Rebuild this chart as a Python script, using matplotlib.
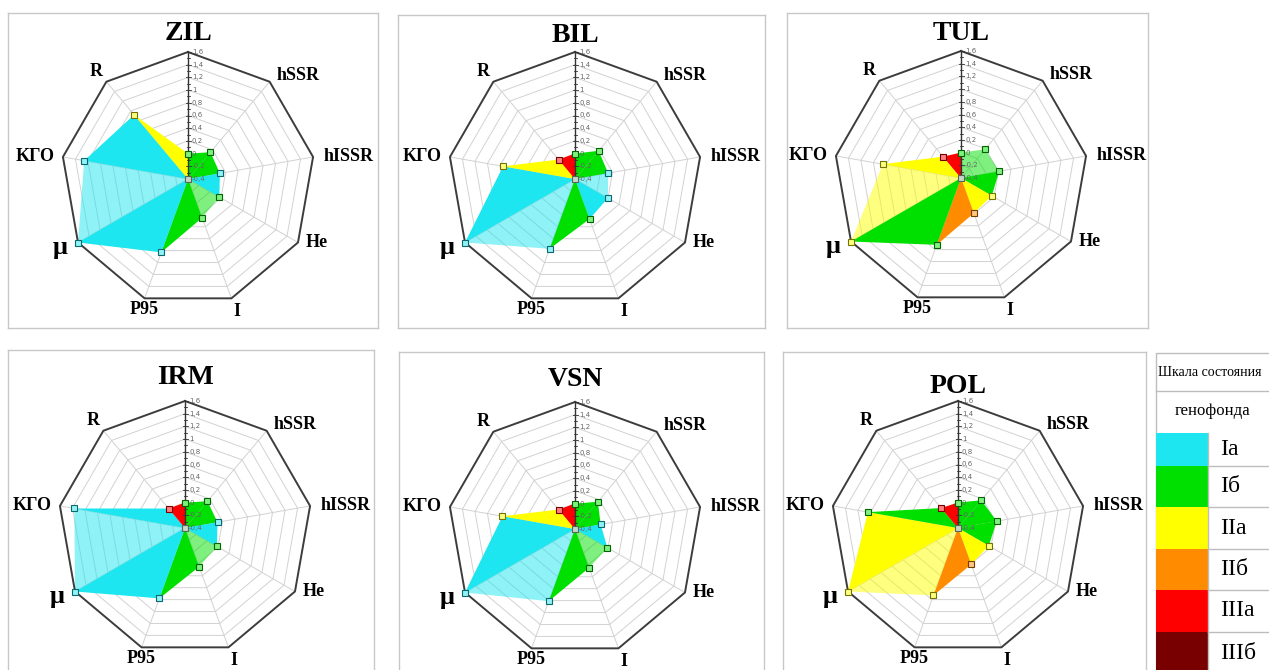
import numpy as np
import matplotlib.pyplot as plt
from matplotlib.patches import Polygon, Rectangle
from matplotlib.colors import to_rgb

W, H = 1269, 670
fig = plt.figure(figsize=(W / 100, H / 100), dpi=100)

# axes of the radar (top axis has no name)
axis_labels = ['', 'hSSR', 'hISSR', 'He', 'I', 'P95', 'μ', 'KГО', 'R']
r_min, r_max, r_step = -0.4, 1.6, 0.2

populations = ['ZIL', 'BIL', 'TUL', 'IRM', 'VSN', 'POL']

zil_values = [0, 0.15, 0.11, 0.17, 0.25, 0.83, 1.60, 1.26, 0.92]
bil_values = [0, 0.18, 0.13, 0.20, 0.27, 0.77, 1.60, 0.75, 0.00]
tul_values = [0, 0.19, 0.21, 0.16, 0.19, 0.72, 1.60, 0.85, 0.04]
irm_values = [0, 0.15, 0.12, 0.18, 0.25, 0.78, 1.60, 1.37, 0.00]
vsn_values = [0, 0.16, 0.01, 0.19, 0.25, 0.81, 1.60, 0.76, 0.00]
pol_values = [0, 0.17, 0.22, 0.16, 0.21, 0.73, 1.60, 1.04, 0.01]

# class of each sector (axis i -> axis i+1)
zil_sectors = ['Iб', 'Iб', 'Ia', 'Iб', 'Iб', 'Ia', 'Ia', 'Ia', 'IIa']
bil_sectors = ['Iб', 'Iб', 'Ia', 'Ia', 'Iб', 'Ia', 'Ia', 'IIa', 'IIIa']
tul_sectors = ['Iб', 'Iб', 'Iб', 'IIa', 'IIб', 'Iб', 'IIa', 'IIa', 'IIIa']
irm_sectors = ['Iб', 'Iб', 'Ia', 'Iб', 'Iб', 'Ia', 'Ia', 'Ia', 'IIIa']
vsn_sectors = ['Iб', 'Iб', 'Ia', 'Iб', 'Iб', 'Ia', 'Ia', 'IIa', 'IIIa']
pol_sectors = ['Iб', 'Iб', 'Iб', 'IIa', 'IIб', 'IIa', 'IIa', 'Iб', 'IIIa']

# sectors drawn semi-transparent
zil_light = [0, 0, 0, 1, 0, 0, 1, 0, 0]
bil_light = [0, 0, 1, 0, 0, 1, 0, 0, 0]
tul_light = [1, 1, 0, 0, 0, 0, 1, 0, 0]
irm_light = [0, 0, 0, 1, 0, 0, 1, 0, 0]
vsn_light = [0, 0, 0, 1, 0, 1, 0, 0, 0]
pol_light = [0, 0, 0, 0, 0, 1, 0, 0, 0]

classes = ['Ia', 'Iб', 'IIa', 'IIб', 'IIIa', 'IIIб']
class_colors = ['#1ee6f0', '#00e000', '#ffff00', '#ff8c00', '#ff0000', '#780000']
legend_title = ['Шкала состояния', 'генофонда']

values_all = [zil_values, bil_values, tul_values, irm_values, vsn_values, pol_values]
sectors_all = [zil_sectors, bil_sectors, tul_sectors, irm_sectors, vsn_sectors, pol_sectors]
light_all = [zil_light, bil_light, tul_light, irm_light, vsn_light, pol_light]

# panel boxes (px), radar centres (px), title offset above centre (px)
boxes = [(8, 13, 378, 328), (398, 15, 765, 328), (787, 13, 1148, 328),
         (8, 350, 374, 675), (399, 352, 764, 675), (783, 352, 1146, 675)]
centres = [(188, 179), (575, 179), (961, 178), (185, 528), (575, 529), (958, 528)]
title_dy = [146, 144, 145, 150, 149, 141]
scale = 63.5  # px per value unit

label_style = {
    'hSSR': ('left', 7, 6), 'hISSR': ('left', 11, 0), 'He': ('left', 8, 0),
    'I': ('center', 5, -13), 'P95': ('center', 0, -11), 'μ': ('right', -10, -5),
    'KГО': ('right', -8, 0), 'R': ('right', -4, 10),
}

serif = 'Liberation Serif'
n = len(axis_labels)
theta = np.arange(n) * 2 * np.pi / n
col_of = dict(zip(classes, class_colors))


def mix(c, other, t):
    c = np.array(to_rgb(c))
    return tuple(c * (1 - t) + np.array(to_rgb(other)) * t)


def xy(r, j):
    return r * np.sin(theta[j]), r * np.cos(theta[j])


def draw_radar(ax, title, values, sectors, light, tdy):
    R = r_max - r_min
    # grid rings
    for k in range(1, 11):
        r = k * r_step
        pts = [xy(r, j % n) for j in range(n + 1)]
        px, py = zip(*pts)
        if k == 10:
            ax.plot(px, py, color='#3c3c3c', lw=1.4, zorder=3)
        else:
            ax.plot(px, py, color='#d2d2d2', lw=0.7, zorder=1)
    for j in range(1, n):
        ex, ey = xy(R, j)
        ax.plot([0, ex], [0, ey], color='#d2d2d2', lw=0.7, zorder=1)

    # sector triangles
    rr = [v - r_min for v in values]
    for i in range(n):
        p1 = xy(rr[i], i)
        p2 = xy(rr[(i + 1) % n], (i + 1) % n)
        c = col_of[sectors[i]]
        ax.add_patch(Polygon([(0, 0), p1, p2], closed=True, facecolor=c,
                             alpha=0.5 if light[i] else 1.0, lw=0, zorder=2))

    # markers
    for i in range(n):
        c = col_of[sectors[i]]
        mx, my = xy(rr[i], i)
        ax.plot(mx, my, 's', ms=4, mfc=mix(c, 'white', 0.5),
                mec=mix(c, 'black', 0.55), mew=0.8, zorder=6)
    ax.plot(0, 0, 's', ms=4, mfc='#c8d8c8', mec='#556655', mew=0.8, zorder=6)

    # value axis on top
    ax.plot([0, 0], [0, R], color='#333333', lw=1.0, zorder=5)
    for k in range(21):
        y = k * r_step / 2
        half = (2.5 if k % 2 == 0 else 1.5) / scale
        ax.plot([-half, half], [y, y], color='#333333', lw=0.6, zorder=5)
    for k in range(11):
        v = round(r_min + k * r_step, 1)
        ax.text(4 / scale, k * r_step, f'{v:g}'.replace('.', ','), fontsize=5,
                color='#666666', ha='left', va='center', zorder=7)

    # axis names
    for j in range(1, n):
        lab = axis_labels[j]
        ha, ox, oy = label_style[lab]
        ax.annotate(lab, xy=xy(R, j), xytext=(ox * 0.72, oy * 0.72),
                    textcoords='offset points', ha=ha, va='center',
                    fontsize=19 if lab == 'μ' else 13, fontweight='bold',
                    family=serif, zorder=8)

    ax.text(0, tdy / scale, title, ha='center', va='center', fontsize=20,
            fontweight='bold', family=serif, zorder=8)


for k in range(6):
    x0, y0, x1, y1 = boxes[k]
    cx, cy = centres[k]
    ax = fig.add_axes([x0 / W, 1 - y1 / H, (x1 - x0) / W, (y1 - y0) / H])
    ax.set_xlim((x0 - cx) / scale, (x1 - cx) / scale)
    ax.set_ylim((cy - y1) / scale, (cy - y0) / scale)
    ax.set_xticks([])
    ax.set_yticks([])
    for sp in ax.spines.values():
        sp.set_color('#c8c8c8')
        sp.set_linewidth(1.0)
    draw_radar(ax, populations[k], values_all[k], sectors_all[k], light_all[k], title_dy[k])

# legend table
lg = fig.add_axes([1150 / W, 0, (W - 1150) / W, 1])
lg.set_xlim(1150, W)
lg.set_ylim(H, 0)
lg.axis('off')
row_edges = [433, 466, 507, 549, 590, 632, 675]
lg.add_patch(Rectangle((1156, 353), 130, 330, fill=False, ec='#bdbdbd', lw=1.0))
lg.plot([1156, 1290], [391, 391], color='#bdbdbd', lw=1.0)
lg.plot([1208, 1208], [433, 675], color='#bdbdbd', lw=1.0)
for i in range(len(classes)):
    top, bot = row_edges[i], row_edges[i + 1]
    lg.add_patch(Rectangle((1156, top), 52, bot - top, facecolor=class_colors[i], lw=0))
    if i > 0:
        lg.plot([1208, 1290], [top, top], color='#bdbdbd', lw=1.0)
    lg.text(1220, (top + bot) / 2, classes[i], fontsize=17, family=serif,
            ha='left', va='center')
lg.text(1158, 372, legend_title[0], fontsize=10, family=serif, ha='left', va='center')
lg.text(1212, 411, legend_title[1], fontsize=12, family=serif, ha='center', va='center')

fig.savefig('out.png', dpi=100, facecolor='white')
